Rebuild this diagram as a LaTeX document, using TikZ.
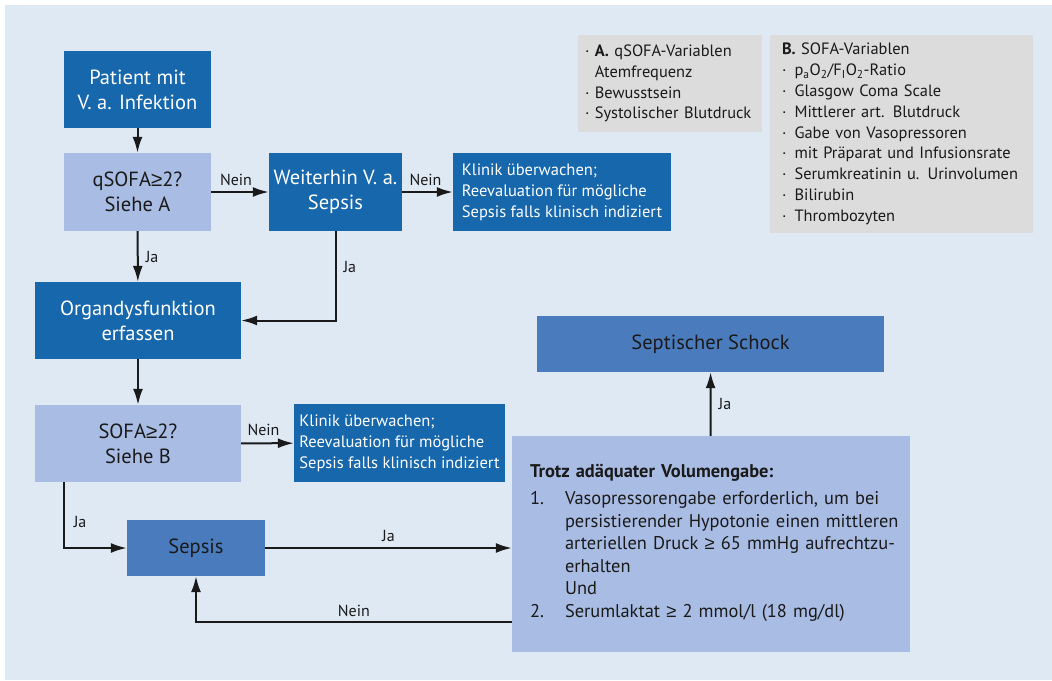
\documentclass[tikz,border=0pt]{standalone}
\usepackage{fontspec}
\setmainfont{PT Sans}
\newfontfamily\zeichen{Liberation Sans}
\usetikzlibrary{arrows.meta}
\definecolor{hintergrund}{HTML}{DFE9F4}
\definecolor{dunkelblau}{HTML}{1767AC}
\definecolor{hellblau}{HTML}{A9BCE3}
\definecolor{mittelblau}{HTML}{4A7CBD}
\definecolor{grau}{HTML}{DCDCDC}
\definecolor{schrift}{HTML}{1A1A1A}
\newcommand{\gross}{\fontsize{20.5}{25}\selectfont}
\newcommand{\klein}{\fontsize{16.5}{21}\selectfont}
\newcommand{\grgl}{{\zeichen ≥}}
\newcommand{\pfeil}[2]{\draw[link] (#1) -- (#2);}
\tikzset{
  kasten/.style={rectangle,inner sep=0pt,align=center},
  dunkel/.style={kasten,fill=dunkelblau,text=white,font=\gross},
  hell/.style={kasten,fill=hellblau,text=schrift,font=\gross},
  mittel/.style={kasten,fill=mittelblau,text=schrift,font=\gross},
  klinik/.style={kasten,fill=dunkelblau,text=white,font=\klein,align=left},
  info/.style={kasten,fill=grau,text=schrift,font=\fontsize{16.4}{20.8}\selectfont,align=left},
  link/.style={line width=2pt,draw=schrift,-{Latex[length=16pt,width=10pt]}},
  lbl/.style={font=\fontsize{16}{18}\selectfont,text=schrift,inner sep=3pt}
}

\begin{document}
\begin{tikzpicture}[x=1pt,y=-1pt]
    \fill[white] (0,0) rectangle (1052,680);
    \fill[hintergrund] (5,5) rectangle (1052,680);
    \useasboundingbox (0,0) rectangle (1052,680);

    \node[dunkel,minimum width=147pt,minimum height=77pt] (patient) at (137.5,89.5) {Patient mit\\V. a. Infektion};
    \node[hell,minimum width=147pt,minimum height=78pt] (qsofa) at (137.5,192) {qSOFA\grgl2?\\Siehe A};
    \node[dunkel,minimum width=133pt,minimum height=78pt] (weiter) at (335.5,192) {Weiterhin V. a.\\Sepsis};
    \node[klinik,minimum width=218pt,minimum height=78pt] (klinik1) at (562,192) {Klinik überwachen;\\Reevaluation für mögliche\\Sepsis falls klinisch indiziert};
    \node[dunkel,minimum width=206pt,minimum height=77pt] (organ) at (138,320.5) {Organdysfunktion\\erfassen};
    \node[hell,minimum width=206pt,minimum height=77pt] (sofa) at (138,443.5) {SOFA\grgl2?\\Siehe B};
    \node[klinik,minimum width=211pt,minimum height=78pt] (klinik2) at (399.5,443) {Klinik überwachen;\\Reevaluation für mögliche\\Sepsis falls klinisch indiziert};
    \node[mittel,minimum width=138pt,minimum height=56pt] (sepsis) at (196,548) {Sepsis};
    \node[mittel,minimum width=347pt,minimum height=56pt] (schock) at (710.5,344) {Septischer Schock};
    \node[kasten,fill=hellblau,text=schrift,font=\fontsize{18.4}{22.5}\selectfont,align=left,minimum width=398pt,minimum height=216pt,text width=362pt] (volumen) at (711,544) {%
      \textbf{Trotz adäquater Volumengabe:}\\[7pt]
      \begin{tabular}{@{}p{35pt}@{}l@{}}
      1. & Vasopressorengabe erforderlich, um bei\\
         & persistierender Hypotonie einen mittleren\\
         & arteriellen Druck \grgl{} 65 mmHg aufrechtzu-\\
         & erhalten\\
         & Und\\
      2. & Serumlaktat \grgl{} 2 mmol/l (18 mg/dl)
      \end{tabular}};

    \node[info,minimum width=184pt,minimum height=97pt,text width=170pt] (varA) at (670,83.5) {%
      · \textbf{A.} qSOFA-Variablen\\
      \phantom{·} Atemfrequenz\\
      · Bewusstsein\\
      · Systolischer Blutdruck};
    \node[info,minimum width=263pt,minimum height=198pt,text width=239pt] (varB) at (901.5,134) {%
      \textbf{B.} SOFA-Variablen\\
      ·\ \,p\textsubscript{a}O\textsubscript{2}/F\textsubscript{I}O\textsubscript{2}-Ratio\\
      ·\ \,Glasgow Coma Scale\\
      ·\ \,Mittlerer art. Blutdruck\\
      ·\ \,Gabe von Vasopressoren\\
      ·\ \,mit Präparat und Infusionsrate\\
      ·\ \,Serumkreatinin u. Urinvolumen\\
      ·\ \,Bilirubin\\
      ·\ \,Thrombozyten};

    \pfeil{patient}{qsofa}
    \draw[link] (qsofa) -- node[lbl,above,yshift=2pt,xshift=-4pt]{Nein} (weiter);
    \draw[link] (weiter) -- node[lbl,above,yshift=2pt,xshift=-2pt]{Nein} (klinik1);
    \draw[link] (qsofa) -- node[lbl,right,xshift=4pt]{Ja} (organ);
    \draw[link] (weiter.south) |- node[lbl,pos=0.2,right,xshift=4pt]{Ja} (organ.east);
    \pfeil{organ}{sofa}
    \draw[link] (sofa) -- node[lbl,above,yshift=4pt,xshift=-4pt]{Nein} (klinik2);
    \draw[link] ([xshift=29pt]sofa.south west) |- node[lbl,pos=0.3,right,xshift=6pt]{Ja} (sepsis.west);
    \draw[link] (sepsis.east) -- node[lbl,above,yshift=2pt]{Ja} (sepsis.east -| volumen.west);
    \draw[link] ([yshift=-78pt]volumen.west) -| node[lbl,pos=0.25,above,yshift=1pt]{Nein} (sepsis.south);
    \draw[link] (volumen) -- node[lbl,right,xshift=4pt]{Ja} (schock);
\end{tikzpicture}
\end{document}
